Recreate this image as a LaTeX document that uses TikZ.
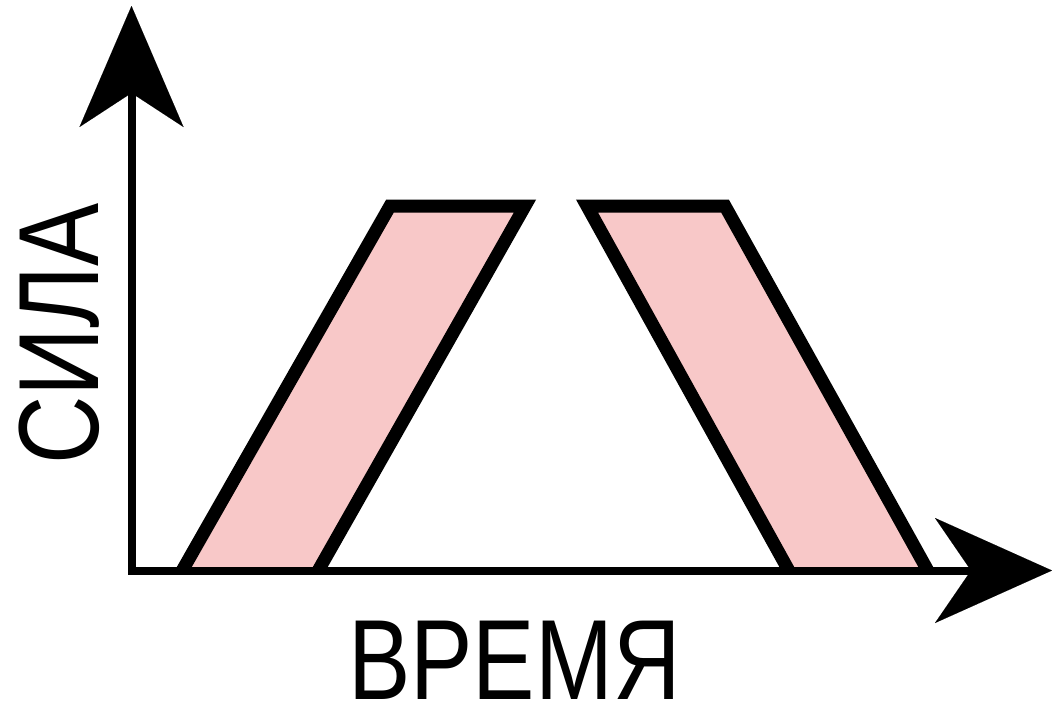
\documentclass[tikz,border=0pt]{standalone}
\usepackage{fontspec}
\setmainfont{Liberation Sans}
\usetikzlibrary{arrows.meta}
\definecolor{bandpink}{RGB}{248,200,200}
\begin{document}
\begin{tikzpicture}[x=1pt,y=-1pt,
  axis/.style={line width=8pt, miter limit=10,
    {Stealth[length=121pt,width=104pt,inset=34pt,line width=0.01pt]}-{Stealth[length=117pt,width=105pt,inset=36pt,line width=0.01pt]}},
  band/.style={line width=13pt, line join=miter, miter limit=10},
  lbl/.style={inner sep=0pt, font=\fontsize{114}{120}\selectfont}]
\useasboundingbox[fill=white] (0,0) rectangle (1052,705);
% coordinates
\coordinate (Ytip) at (131.5,6);
\coordinate (Xtip) at (1052,570.5);
\coordinate (A1) at (182,571);
\coordinate (A2) at (390,206);
\coordinate (A3) at (525,206);
\coordinate (A4) at (318,571);
\coordinate (B1) at (587,206);
\coordinate (B2) at (725,206);
\coordinate (B3) at (928,571);
\coordinate (B4) at (789,571);
% bands
\fill[bandpink] (A1) -- (A2) -- (A3) -- (A4) -- cycle;
\draw[band] (A1) -- (A2) -- (A3) -- (A4);
\fill[bandpink] (B1) -- (B2) -- (B3) -- (B4) -- cycle;
\draw[band] (B4) -- (B1) -- (B2) -- (B3);
% axes
\draw[axis] (Ytip) |- (Xtip);
% labels
\node[lbl, rotate=90] (ylab) at (59,334) {\scalebox{0.83}[1]{СИЛА}};
\node[lbl] (xlab) at (514.5,660) {\scalebox{0.82}[1]{ВРЕМЯ}};
\end{tikzpicture}
\end{document}
